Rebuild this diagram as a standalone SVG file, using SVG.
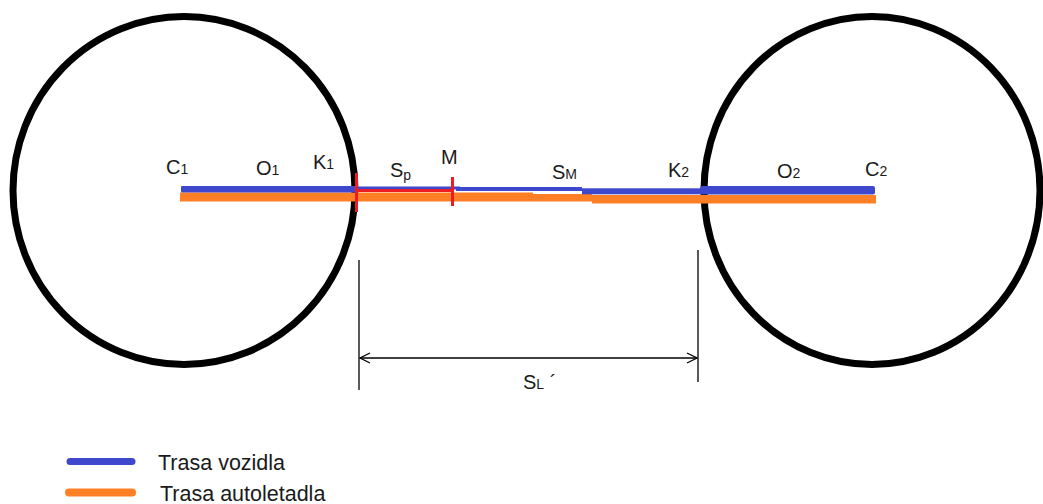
<svg xmlns="http://www.w3.org/2000/svg" width="1043" height="504" viewBox="0 0 1043 504">
<style>
.ring{fill:none;stroke:#000;stroke-width:7}
.lbl{font-family:"Liberation Sans",Arial,sans-serif;font-size:20px;fill:#1a1a1a}
.sub{font-size:14px}
.leg{font-family:"Liberation Sans",Arial,sans-serif;font-size:21.5px;fill:#1a1a1a}
.dim{stroke:#000;stroke-width:1.3;fill:none}
</style>
<defs>
<marker id="oa" viewBox="0 0 12 12" refX="11" refY="6" markerWidth="12" markerHeight="12" markerUnits="userSpaceOnUse" orient="auto-start-reverse">
<path d="M1,1 L11,6 L1,11" fill="none" stroke="#000" stroke-width="1.3"/>
</marker>
</defs>
<rect width="1043" height="504" fill="#fff"/>
<g id="circle1"><ellipse class="ring" cx="184" cy="190.5" rx="171" ry="174"/></g>
<g id="circle2"><ellipse class="ring" cx="872" cy="190.5" rx="168" ry="174"/></g>
<g id="connectors">
<rect x="180" y="192.5" width="412" height="9" fill="#ff7f27"/>
<rect x="592" y="195" width="284" height="8.5" fill="#ff7f27"/>
<rect x="181" y="186" width="175" height="6.5" rx="1" fill="#3f48cc"/>
<rect x="356" y="186.5" width="104" height="3" fill="#3f48cc"/>
<rect x="456" y="187" width="126" height="4" fill="#3f48cc"/>
<rect x="533" y="191" width="49" height="3" fill="#fff"/>
<rect x="582" y="188.3" width="120" height="6" fill="#3f48cc"/>
<rect x="700" y="186" width="175" height="8.5" rx="2" fill="#3f48cc"/>
<rect x="356" y="189" width="97" height="3" fill="#ed1c24"/>
<rect x="355" y="173" width="3" height="39" fill="#ed1c24"/>
<rect x="451" y="177" width="3" height="29" fill="#ed1c24"/>
<line class="dim" x1="359" y1="260" x2="359" y2="390"/>
<line class="dim" x1="698" y1="250" x2="698" y2="382"/>
<line class="dim" x1="360" y1="358" x2="697" y2="358" marker-start="url(#oa)" marker-end="url(#oa)"/>
</g>
<g id="labels">
<text class="lbl" x="166" y="174">C<tspan class="sub">1</tspan></text>
<text class="lbl" x="256" y="175">O<tspan class="sub">1</tspan></text>
<text class="lbl" x="313" y="169">K<tspan class="sub">1</tspan></text>
<text class="lbl" x="390" y="177">S<tspan class="sub" dy="3">p</tspan></text>
<text class="lbl" x="441" y="164">M</text>
<text class="lbl" x="552" y="179">S<tspan class="sub">M</tspan></text>
<text class="lbl" x="668" y="177">K<tspan class="sub">2</tspan></text>
<text class="lbl" x="777" y="178">O<tspan class="sub">2</tspan></text>
<text class="lbl" x="865" y="176">C<tspan class="sub">2</tspan></text>
<text class="lbl" x="523" y="389">S<tspan class="sub">L</tspan> ´</text>
</g>
<g id="legend">
<line x1="70" y1="461.5" x2="132" y2="461.5" stroke="#3f48cc" stroke-width="7" stroke-linecap="round"/>
<line x1="69" y1="492.5" x2="132" y2="492.5" stroke="#ff7f27" stroke-width="8" stroke-linecap="round"/>
<text class="leg" x="158" y="470">Trasa vozidla</text>
<text class="leg" x="160" y="501">Trasa autoletadla</text>
</g>
</svg>
